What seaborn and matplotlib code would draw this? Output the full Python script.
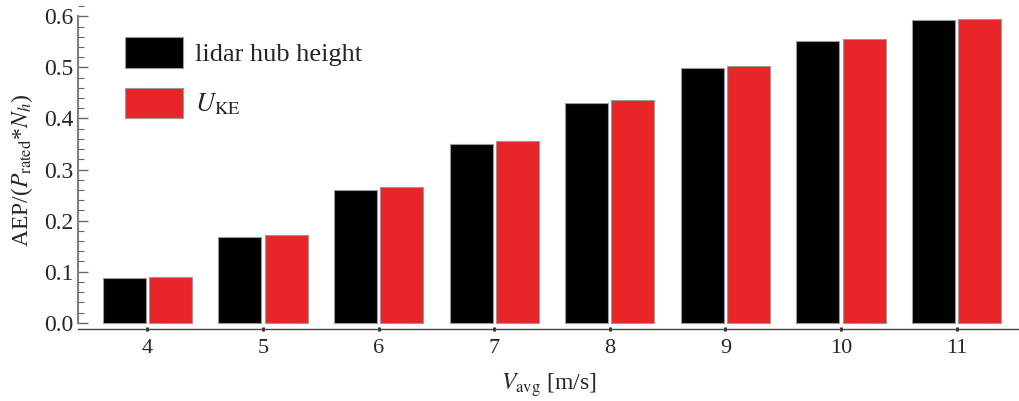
import matplotlib.pyplot as plt
import seaborn as sns
import pandas as pd
from matplotlib.ticker import MultipleLocator

# values
v_avg = [4, 5, 6, 7, 8, 9, 10, 11]
aep_lidar = [0.087, 0.168, 0.260, 0.350, 0.431, 0.498, 0.552, 0.592]
aep_uke = [0.089, 0.171, 0.265, 0.355, 0.436, 0.503, 0.555, 0.595]
series_names = ["lidar hub height", r"$U_{\mathrm{KE}}$"]
bar_colors = ["#000000", "#e82527"]

df = pd.DataFrame({
    "v": [str(v) for v in v_avg] * 2,
    "aep": aep_lidar + aep_uke,
    "series": [series_names[0]] * len(v_avg) + [series_names[1]] * len(v_avg),
})

sns.set_style("ticks")
plt.rcParams["font.family"] = ["Liberation Serif", "DejaVu Serif"]
plt.rcParams["mathtext.fontset"] = "stix"

fig = plt.figure(figsize=(10.19, 4.01), dpi=100)
ax = fig.add_axes([78 / 1019, 72 / 401, 941 / 1019, 329 / 401])

sns.barplot(data=df, x="v", y="aep", hue="series", hue_order=series_names,
            order=[str(v) for v in v_avg], palette=bar_colors, saturation=1,
            width=0.8, gap=0.07, edgecolor="#9a9a9a", linewidth=0.8,
            errorbar=None, ax=ax)

ax.set_xlim(-0.6, 7.54)
ax.set_ylim(-0.0122, 0.632)
ax.yaxis.set_major_locator(MultipleLocator(0.1))
ax.yaxis.set_minor_locator(MultipleLocator(0.02))
ax.yaxis.set_major_formatter(plt.FormatStrFormatter("%.1f"))

for side in ["top", "right"]:
    ax.spines[side].set_visible(False)
ax.spines["left"].set_bounds(0, 0.6)
ax.spines["left"].set_color("#808080")
ax.spines["left"].set_linewidth(1.5)
ax.spines["bottom"].set_color("#444444")
ax.spines["bottom"].set_linewidth(1.0)

ax.tick_params(axis="y", which="major", direction="in", length=7, width=1,
               color="#666666", labelsize=17, pad=3)
ax.tick_params(axis="y", which="minor", direction="in", length=4, width=0.8,
               color="#666666")
ax.tick_params(axis="x", direction="inout", length=3, width=2, color="#222222",
               labelsize=16, pad=6)

ax.set_xlabel(r"$V_{\mathrm{avg}}$ [m/s]", fontsize=17, labelpad=9)
ax.set_ylabel(r"AEP/($P_{\mathrm{rated}}$*$N_h$)", fontsize=17)
ax.yaxis.set_label_coords(-0.0457, 0.482)

ax.legend(loc="upper left", bbox_to_anchor=(0.0247, 0.959), frameon=False,
          fontsize=19, handlelength=2.2, handleheight=1.4, labelspacing=0.75,
          handletextpad=0.45)

fig.savefig("out.png", dpi=100)
